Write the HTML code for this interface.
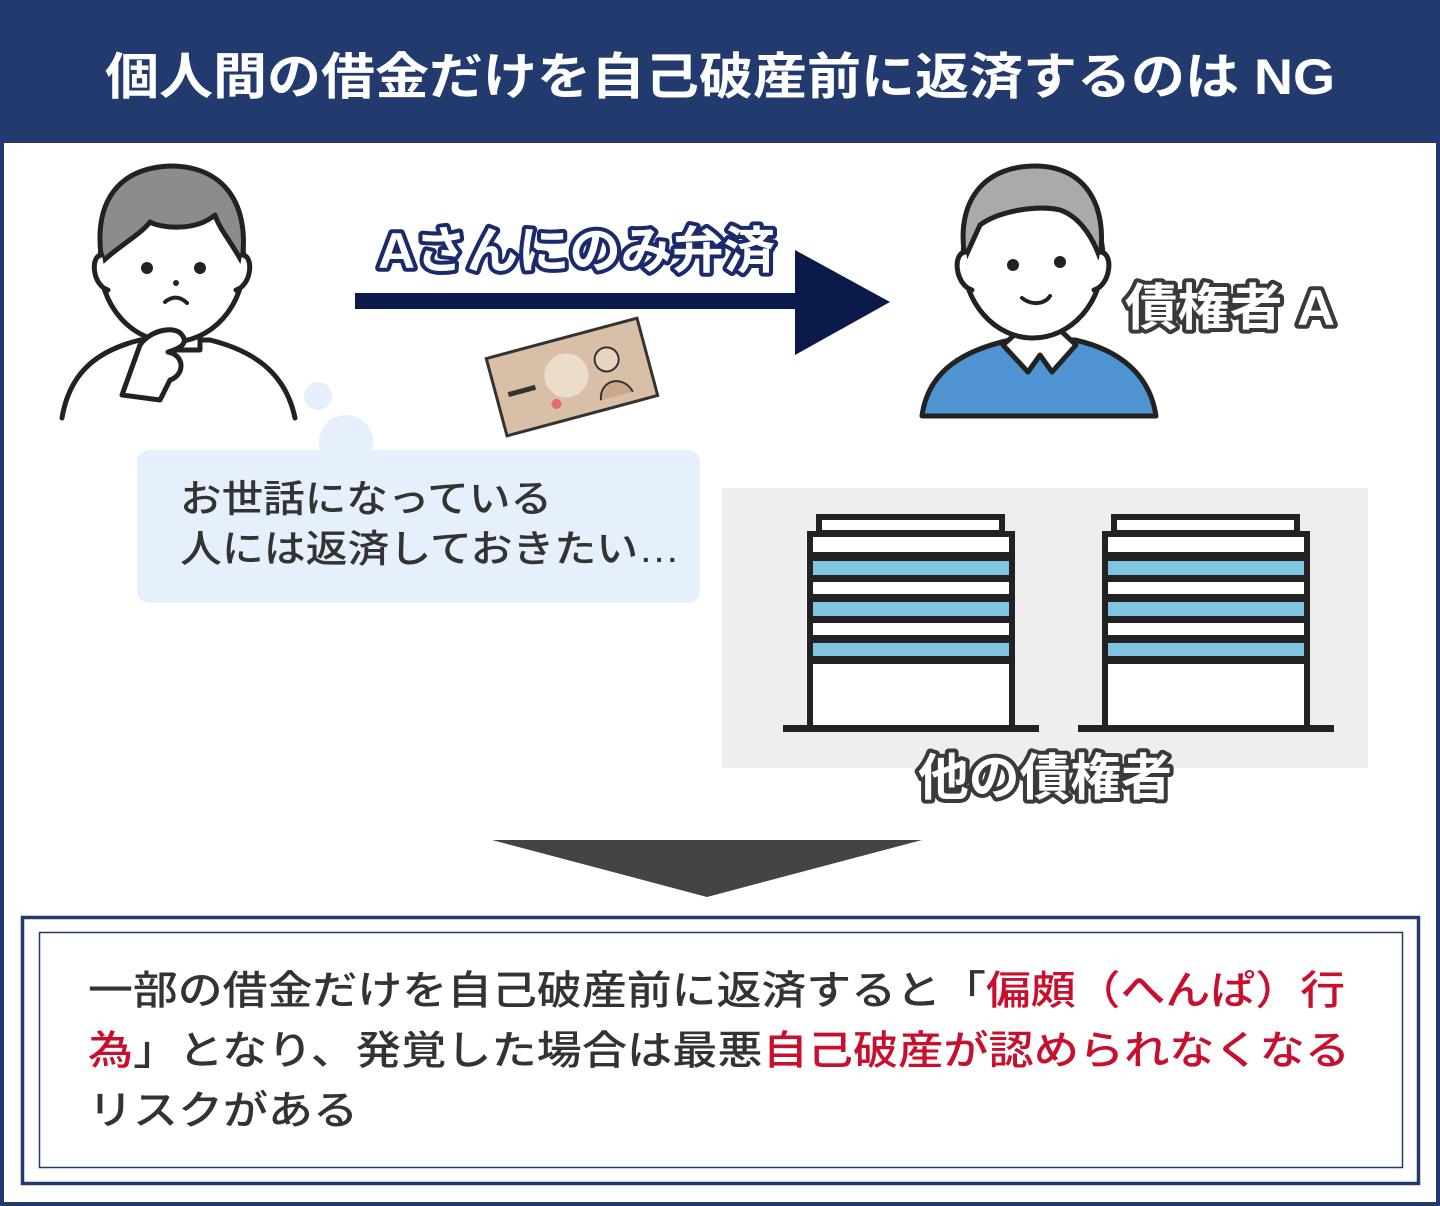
<!DOCTYPE html>
<html><head><meta charset="utf-8">
<style>
html,body{margin:0;padding:0;background:#fff;}
svg{display:block;}
text{font-family:"Liberation Sans","Noto Sans CJK JP",sans-serif;}
</style></head>
<body>
<svg width="1440" height="1206" viewBox="0 0 1440 1206" xmlns="http://www.w3.org/2000/svg">
<rect x="0" y="0" width="1440" height="1206" fill="#fff"/>
<rect x="2" y="2" width="1436" height="1202" fill="none" stroke="#233a6e" stroke-width="4"/>
<rect x="0" y="0" width="1440" height="143" fill="#233a6e"/>
<text x="720" y="94" fill="#fff" font-size="50" font-weight="bold" text-anchor="middle" textLength="1230" lengthAdjust="spacingAndGlyphs">個人間の借金だけを自己破産前に返済するのは NG</text>

<g stroke="#222" stroke-width="5" stroke-linecap="round" stroke-linejoin="round">
  <path d="M62 418 C70 370 100 350 140 340 L210 340 C250 350 285 370 295 418" fill="#fff"/>
  <path d="M150 330 L150 350 L200 350 L200 330" fill="#fff"/>
  <ellipse cx="172" cy="262" rx="72" ry="80" fill="#fff"/>
  <path d="M102 262 C92 200 120 168 170 166 C225 166 250 205 242 262 C230 240 220 230 215 215 C195 232 160 228 150 222 C140 235 120 245 102 262 Z" fill="#8c8c8c"/>
  <path d="M102 255 C90 255 92 285 108 290" fill="#fff"/>
  <path d="M242 255 C254 255 252 285 236 290" fill="#fff"/>
  <path d="M122 395 L140 345 C150 330 175 325 182 335 C190 345 175 350 168 352 C185 355 185 375 170 380 L160 400 Z" fill="#fff"/>
  <path d="M165 302 C172 296 180 296 187 303" fill="none" stroke-width="4"/>
</g>
<circle cx="147" cy="268" r="6" fill="#222"/>
<circle cx="200" cy="268" r="6" fill="#222"/>
<circle cx="176" cy="283" r="3" fill="#222"/>

<circle cx="318" cy="396" r="14" fill="#e6f0fc"/>
<circle cx="346" cy="442" r="27" fill="#e6f0fc"/>
<rect x="137" y="450" width="563" height="153" rx="12" fill="#e6f0fc"/>
<text x="180" y="512" fill="#333" font-size="38" font-weight="500" textLength="372" lengthAdjust="spacingAndGlyphs">お世話になっている</text>
<text x="180" y="562" fill="#333" font-size="38" font-weight="500" textLength="500" lengthAdjust="spacingAndGlyphs">人には返済しておきたい…</text>

<rect x="355" y="293" width="445" height="16" fill="#0b1a4a"/>
<polygon points="795,250 890,302 795,355" fill="#0b1a4a"/>
<text x="378" y="268" font-size="50" font-weight="bold" fill="#fff" stroke="#1b2a6b" stroke-width="8" paint-order="stroke" stroke-linejoin="round" textLength="397" lengthAdjust="spacingAndGlyphs">Aさんにのみ弁済</text>

<g transform="translate(572,377) rotate(-15)">
  <rect x="-78" y="-40" width="156" height="80" fill="#d9bfa8" stroke="#333" stroke-width="3"/>
  <circle cx="-5" cy="-3" r="22" fill="#ecdccc"/>
  <circle cx="38" cy="-8" r="12" fill="#e8d4c2" stroke="#333" stroke-width="2"/>
  <path d="M22 30 C25 10 50 10 55 30" fill="#c9a88c" stroke="#333" stroke-width="2"/>
  <circle cx="-22" cy="22" r="5" fill="#e56a6a"/>
  <rect x="-66" y="-2" width="28" height="5" fill="#333"/>
</g>

<g stroke="#222" stroke-width="5" stroke-linecap="round" stroke-linejoin="round">
  <path d="M922 416 C928 370 965 350 1010 340 L1075 340 C1120 350 1150 375 1156 416 Z" fill="#4f93d0"/>
  <path d="M1003 345 L1028 372 L1040 355 L1052 372 L1076 345 L1060 330 L1020 330 Z" fill="#fff"/>
  <ellipse cx="1033" cy="258" rx="70" ry="80" fill="#fff"/>
  <path d="M965 258 C955 200 985 166 1035 166 C1085 166 1108 205 1100 258 C1090 230 1075 215 1060 210 C1040 205 1000 210 980 225 Z" fill="#aaa"/>
  <path d="M966 252 C952 252 955 285 972 290" fill="#fff"/>
  <path d="M1100 252 C1114 252 1111 285 1094 290" fill="#fff"/>
  <path d="M1022 298 C1032 306 1045 304 1050 296" fill="none" stroke-width="4"/>
</g>
<circle cx="1013" cy="265" r="6" fill="#222"/>
<circle cx="1060" cy="262" r="6" fill="#222"/>
<text x="1125" y="325" font-size="50" font-weight="bold" fill="#fff" stroke="#3a3a3a" stroke-width="8" paint-order="stroke" stroke-linejoin="round" textLength="210" lengthAdjust="spacingAndGlyphs">債権者 A</text>

<rect x="722" y="488" width="646" height="280" fill="#eeeeee"/>
<g id="bld">
  <rect x="819" y="517" width="183" height="16" fill="#fff" stroke="#222" stroke-width="6"/>
  <rect x="810" y="534" width="202" height="194" fill="#fff" stroke="#222" stroke-width="6"/>
  <rect x="813" y="552" width="196" height="9" fill="#222"/>
  <rect x="813" y="561" width="196" height="14" fill="#7fc4e0"/>
  <rect x="813" y="575" width="196" height="7" fill="#222"/>
  <rect x="813" y="594" width="196" height="8" fill="#222"/>
  <rect x="813" y="602" width="196" height="14" fill="#7fc4e0"/>
  <rect x="813" y="616" width="196" height="7" fill="#222"/>
  <rect x="813" y="635" width="196" height="8" fill="#222"/>
  <rect x="813" y="643" width="196" height="13" fill="#7fc4e0"/>
  <rect x="813" y="656" width="196" height="8" fill="#222"/>
  <rect x="783" y="725" width="256" height="7" fill="#222"/>
</g>
<use href="#bld" transform="translate(295,0)"/>
<text x="918" y="795" font-size="50" font-weight="bold" fill="#fff" stroke="#3a3a3a" stroke-width="8" paint-order="stroke" stroke-linejoin="round" textLength="254" lengthAdjust="spacingAndGlyphs">他の債権者</text>

<polygon points="492,840 922,840 707,897" fill="#444"/>

<rect x="22.5" y="917.5" width="1396" height="266" fill="none" stroke="#233a6e" stroke-width="3.5"/>
<rect x="39.5" y="932.5" width="1363" height="235" fill="none" stroke="#233a6e" stroke-width="1.5"/>
<text x="88" y="1004" font-size="40" font-weight="500" fill="#333" textLength="1257" lengthAdjust="spacingAndGlyphs">一部の借金だけを自己破産前に返済すると「<tspan fill="#c8102e">偏頗（へんぱ）行</tspan></text>
<text x="88" y="1064" font-size="40" font-weight="500" fill="#333" textLength="1262" lengthAdjust="spacingAndGlyphs"><tspan fill="#c8102e">為</tspan>」となり、発覚した場合は最悪<tspan fill="#c8102e">自己破産が認められなくなる</tspan></text>
<text x="88" y="1124" font-size="40" font-weight="500" fill="#333" textLength="270" lengthAdjust="spacingAndGlyphs">リスクがある</text>
</svg>
</body></html>
